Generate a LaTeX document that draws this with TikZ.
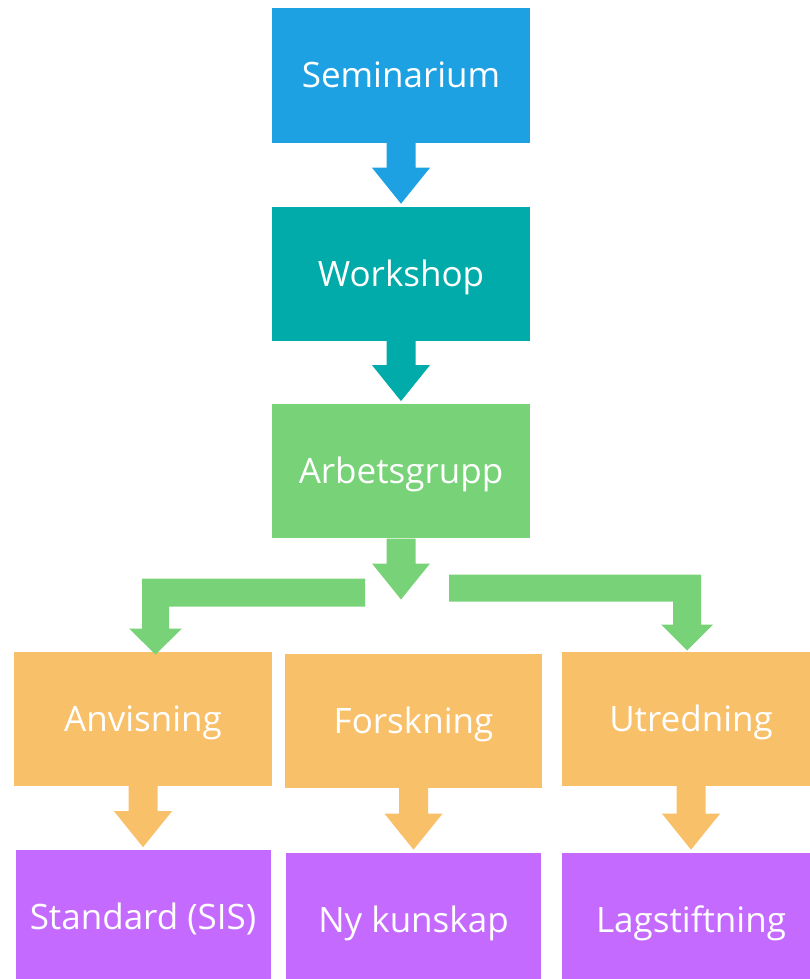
\documentclass[tikz,border=0pt]{standalone}
\usepackage{fontspec}
\setmainfont{Open Sans}
\usetikzlibrary{positioning,calc}
\definecolor{semblue}{RGB}{29,161,226}
\definecolor{workteal}{RGB}{0,171,169}
\definecolor{arbgreen}{RGB}{120,210,120}
\definecolor{resorange}{RGB}{249,192,106}
\definecolor{outpurple}{RGB}{197,106,255}
\tikzset{
    stage/.style={rectangle, minimum width=258pt, minimum height=134pt, inner sep=0pt, text=white,
      font=\fontsize{35}{40}\selectfont, text height=25pt, text depth=0pt},
    outstage/.style={stage, minimum width=255pt}
}
% block arrow pointing down: start point, tip point, colour
\newcommand{\blockdown}[3]{%
  \fill[#3] let \p1=#1, \p2=#2 in
    (\x1-14.5pt,\y1) -- (\x1+14.5pt,\y1) -- (\x1+14.5pt,\y2+36pt) -- (\x1+29pt,\y2+36pt)
    -- (\x1,\y2) -- (\x1-29pt,\y2+36pt) -- (\x1-14.5pt,\y2+36pt) -- cycle;}

\begin{document}
\begin{tikzpicture}[x=1pt, y=-1pt]
    \useasboundingbox (0,0) rectangle (810,979);
    \clip (0,0) rectangle (810,979);
    \node[stage, fill=semblue] (sem) at (401,75.5) {Seminarium};
    \node[stage, fill=workteal, below=64pt of sem] (work) {Workshop};
    \node[stage, fill=arbgreen, below=63pt of work] (arb) {Arbetsgrupp};
    \node[stage, fill=resorange] (anv) at (143,719) {Anvisning};
    \node[stage, fill=resorange, minimum width=257pt] (fors) at (413.5,720.5) {Forskning};
    \node[stage, fill=resorange] (utr) at (691,718.5) {Utredning};
    \node[outstage, fill=outpurple, below=64pt of anv] (std) {Standard (SIS)};
    \node[outstage, fill=outpurple, below=65pt of fors] (ny) {Ny kunskap};
    \node[outstage, fill=outpurple, minimum width=258pt, below=67pt of utr] (lag) {Lagstiftning};

    \blockdown{(sem.south)}{([yshift=3pt]work.north)}{semblue}
    \blockdown{(work.south)}{([yshift=3pt]arb.north)}{workteal}
    \coordinate (fork) at ([yshift=-61pt]arb.south);
    \blockdown{(arb.south)}{(fork)}{arbgreen}
    % branches to the left and right
    \fill[arbgreen] ([shift={(-36,-21)}]fork) -- ++(-223,0) -- ++(0,50) -- ++(-13,0) -- ++(26.5,26)
      -- ++(26.5,-26) -- ++(-13,0) -- ++(0,-22) -- ++(196,0) -- cycle;
    \fill[arbgreen] ([shift={(48,-25)}]fork) -- ++(252,0) -- ++(0,50) -- ++(12,0) -- ++(-26,26)
      -- ++(-26,-26) -- ++(12,0) -- ++(0,-23) -- ++(-224,0) -- cycle;

    \blockdown{(anv.south)}{([yshift=3pt]std.north)}{resorange}
    \blockdown{(fors.south)}{([yshift=3pt]ny.north)}{resorange}
    \blockdown{(utr.south)}{([yshift=3pt]lag.north)}{resorange}
\end{tikzpicture}
\end{document}
